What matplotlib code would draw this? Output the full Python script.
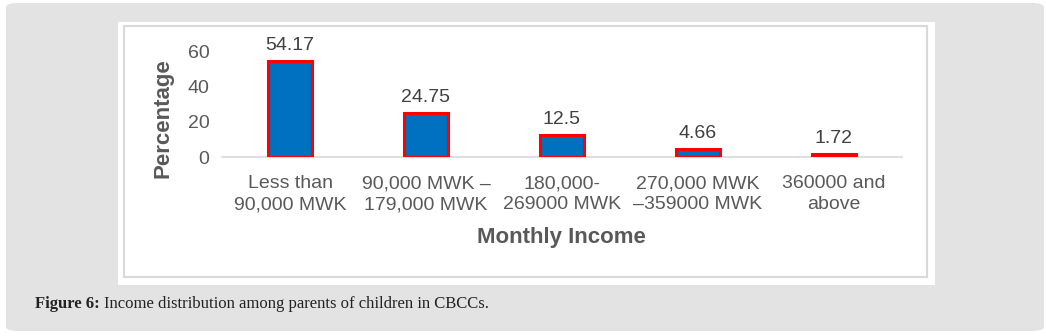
import matplotlib
matplotlib.use("Agg")
import matplotlib.pyplot as plt
from matplotlib.patches import FancyBboxPatch, Rectangle

categories = ["Less than\n90,000 MWK", "90,000 MWK –\n179,000 MWK", "180,000-\n269000 MWK",
              "270,000 MWK\n–359000 MWK", "360000 and\nabove"]
values = [54.17, 24.75, 12.5, 4.66, 1.72]
value_labels = ["54.17", "24.75", "12.5", "4.66", "1.72"]
yticks = [0, 20, 40, 60]

W, H = 1046, 336
fig = plt.figure(figsize=(W / 100, H / 100), dpi=100, facecolor="white")
plt.rcParams['font.family'] = ['Liberation Sans', 'DejaVu Sans']

def fx(x):
    return x / W

def fy(y):
    return 1 - y / H

# outer gray rounded panel
fig.patches.append(FancyBboxPatch((fx(6), fy(331)), fx(1044) - fx(6), fy(3) - fy(331),
                                  boxstyle="round,pad=0,rounding_size=0.012",
                                  transform=fig.transFigure, facecolor="#e3e3e3",
                                  edgecolor="none", zorder=0))
# white box
fig.patches.append(Rectangle((fx(118), fy(285)), fx(935) - fx(118), fy(22) - fy(285),
                             transform=fig.transFigure, facecolor="white", edgecolor="none", zorder=1))
# inner border
fig.patches.append(Rectangle((fx(124), fy(277)), fx(927) - fx(124), fy(26) - fy(277),
                             transform=fig.transFigure, facecolor="none", edgecolor="#d9d9d9",
                             linewidth=1.5, zorder=2))

ax = fig.add_axes([fx(222), fy(157), fx(902) - fx(222), fy(51) - fy(157)])
ax.set_zorder(5)
ax.set_facecolor("none")
x = range(len(values))
bars = ax.bar(x, values, width=0.32, color="#0070c0", edgecolor="#ff0000", linewidth=2.2, zorder=3)
ax.set_xlim(-0.5, len(values) - 0.5)
ax.set_ylim(0, 60)
ax.set_yticks(yticks)
ax.set_yticklabels([str(t) for t in yticks], fontsize=14, color="#595959")
ax.set_xticks(list(x))
ax.set_xticklabels(categories, fontsize=14, color="#595959", linespacing=1.32)
ax.tick_params(axis="y", length=0, pad=9)
ax.tick_params(axis="x", length=0, pad=13)
for s in ["top", "right", "left"]:
    ax.spines[s].set_visible(False)
ax.spines["bottom"].set_color("#d9d9d9")
ax.spines["bottom"].set_linewidth(1.2)

for b, lab in zip(bars, value_labels):
    ax.annotate(lab, (b.get_x() + b.get_width() / 2, b.get_height()), xytext=(0, 5),
                textcoords="offset points", ha="center", va="bottom", fontsize=14, color="#404040")

fig.text(fx(561), fy(238), "Monthly Income", ha="center", va="center", fontsize=16,
         fontweight="bold", color="#595959", zorder=6)
fig.text(fx(163), fy(118), "Percentage", ha="center", va="center", rotation=90, fontsize=16,
         fontweight="bold", color="#595959", zorder=6)

# caption
t1 = fig.text(fx(35), fy(308), "Figure 6:", ha="left", va="baseline", fontsize=12,
              fontweight="bold", family="Liberation Serif", color="#222222", zorder=6)
fig.canvas.draw()
bb = t1.get_window_extent()
fig.text((bb.x1 + 4) / W, fy(308), "Income distribution among parents of children in CBCCs.",
         ha="left", va="baseline", fontsize=12, family="Liberation Serif", color="#222222", zorder=6)

fig.savefig("out.png", dpi=100, facecolor="white")
